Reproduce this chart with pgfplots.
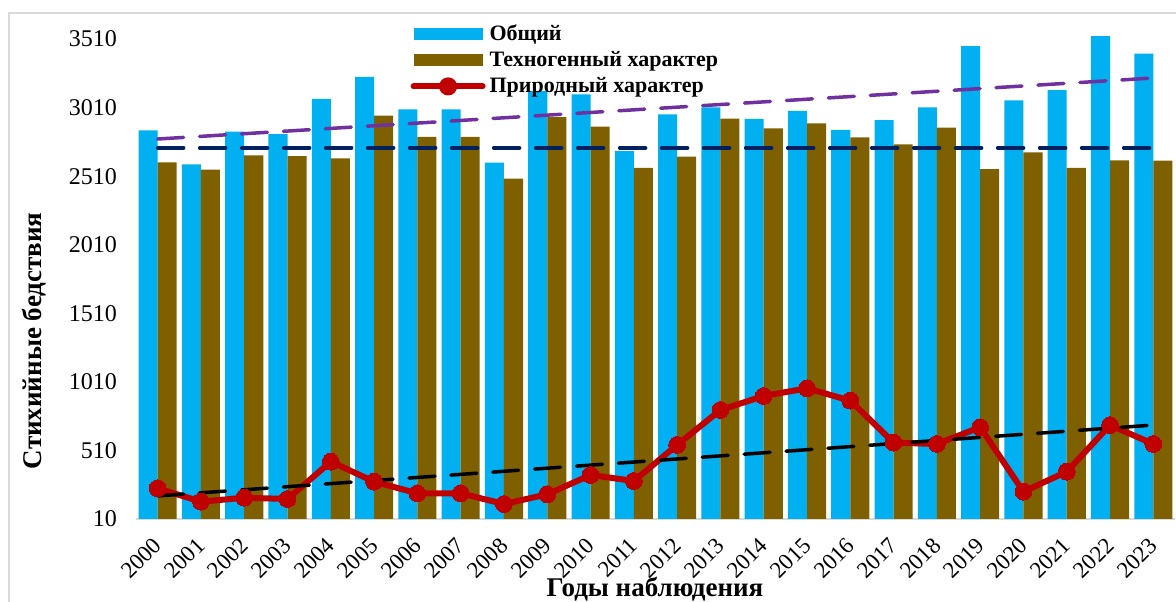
\documentclass[border=0pt]{standalone}
\usepackage{fontspec}
\setmainfont{Liberation Serif}
\usepackage{pgfplots}
\pgfplotsset{compat=1.18}
\usepackage{pgfplotstable}

\definecolor{obsh}{HTML}{00B0F0}
\definecolor{tech}{HTML}{7F6000}
\definecolor{prir}{HTML}{C00000}
\definecolor{trendA}{HTML}{7030A0}
\definecolor{trendB}{HTML}{002060}
\definecolor{framegray}{HTML}{D9D9D9}

% x = year - 2000
\pgfplotstableread{
x obsh tech prir
0 2844 2611 234
1 2596 2557 136
2 2834 2662 165
3 2817 2657 156
4 3073 2640 428
5 3235 2951 282
6 2997 2796 197
7 2997 2796 197
8 2608 2492 119
9 3131 2941 190
10 3107 2871 331
11 2693 2570 287
12 2961 2652 550
13 3012 2929 805
14 2927 2859 907
15 2987 2895 963
16 2847 2793 873
17 2919 2742 567
18 3012 2864 557
19 3459 2562 679
20 3063 2684 209
21 3138 2570 355
22 3532 2625 695
23 3403 2623 557
}\data

\begin{document}
\begin{tikzpicture}
\begin{axis}[
    scale only axis,
    width=519.5pt, height=253pt,
    xmin=-0.5, xmax=23.5,
    ymin=10, ymax=3700,
    ytick={10,510,...,3510},
    xtick={0,...,23},
    xticklabels={2000,2001,2002,2003,2004,2005,2006,2007,2008,2009,2010,2011,
                 2012,2013,2014,2015,2016,2017,2018,2019,2020,2021,2022,2023},
    axis x line*=bottom,
    axis y line*=left,
    x axis line style={framegray, line width=1pt},
    y axis line style={draw=none},
    major tick length=0pt,
    /pgf/number format/assume math mode=true,
    /pgf/number format/1000 sep={},
    yticklabel style={font=\fontsize{12}{14}\selectfont, xshift=-6pt},
    % shifts are in the rotated frame of the label
    xticklabel style={font=\fontsize{11.5}{14}\selectfont, rotate=45, anchor=east, xshift=-4.5pt, yshift=-8pt},
    ylabel={Стихийные бедствия},
    ylabel style={at={(rel axis cs:-0.098,0.352)}, anchor=center, font=\bfseries\fontsize{13.5}{16}\selectfont},
    xlabel={Годы наблюдения},
    xlabel style={at={(rel axis cs:0.4995,-0.154)}, anchor=base, font=\bfseries\fontsize{13.5}{16}\selectfont},
    legend style={at={(rel axis cs:0.262,0.99)}, anchor=north west, draw=none, fill=none,
        inner sep=1pt, font=\bfseries\fontsize{11}{13}\selectfont, row sep=0pt},
    legend cell align=left,
]

\addplot[ybar, bar width=0.44, bar shift=-0.22, fill=obsh, draw=none,
    legend image code/.code={\fill[obsh] (0pt,-3pt) rectangle (34.5pt,3pt);}]
    table[x=x, y=obsh] {\data};
\addlegendentry{Общий}

\addplot[ybar, bar width=0.44, bar shift=0.22, fill=tech, draw=none,
    legend image code/.code={\fill[tech] (0pt,-3pt) rectangle (34.5pt,3pt);}]
    table[x=x, y=tech] {\data};
\addlegendentry{Техногенный характер}

% linear trends
\addplot[forget plot, trendA, line width=1.75pt, line cap=round, dash pattern=on 13pt off 8pt]
    coordinates {(0,2781) (23,3226)};
\addplot[forget plot, trendB, line width=1.75pt, line cap=round, dash pattern=on 13pt off 8pt]
    coordinates {(0,2717) (23,2717)};

\addplot[prir, line width=3pt, mark=*, mark size=4.2pt, mark options={fill=prir, draw=prir, line width=0pt},
    legend image code/.code={\draw[prir, line width=3pt, line cap=round] (0pt,0pt) -- (34.5pt,0pt);
        \fill[prir] (17.25pt,0pt) circle (3pt);}]
    table[x=x, y=prir] {\data};
\addlegendentry{Природный характер}

\addplot[forget plot, black, line width=1.75pt, line cap=round, dash pattern=on 13pt off 8pt]
    coordinates {(0,178) (23,695)};

\coordinate (frA) at (rel axis cs:-0.1222,-0.3);
\coordinate (frB) at (rel axis cs:1.1,1.0);
\coordinate (bbA) at (rel axis cs:-0.1309,-0.164);
\coordinate (bbB) at (rel axis cs:1.001,1.0257);
\end{axis}
\draw[framegray, line width=1pt] (frA) |- (frB);
\pgfresetboundingbox
\path[use as bounding box] (bbA) rectangle (bbB);
\end{tikzpicture}
\end{document}
